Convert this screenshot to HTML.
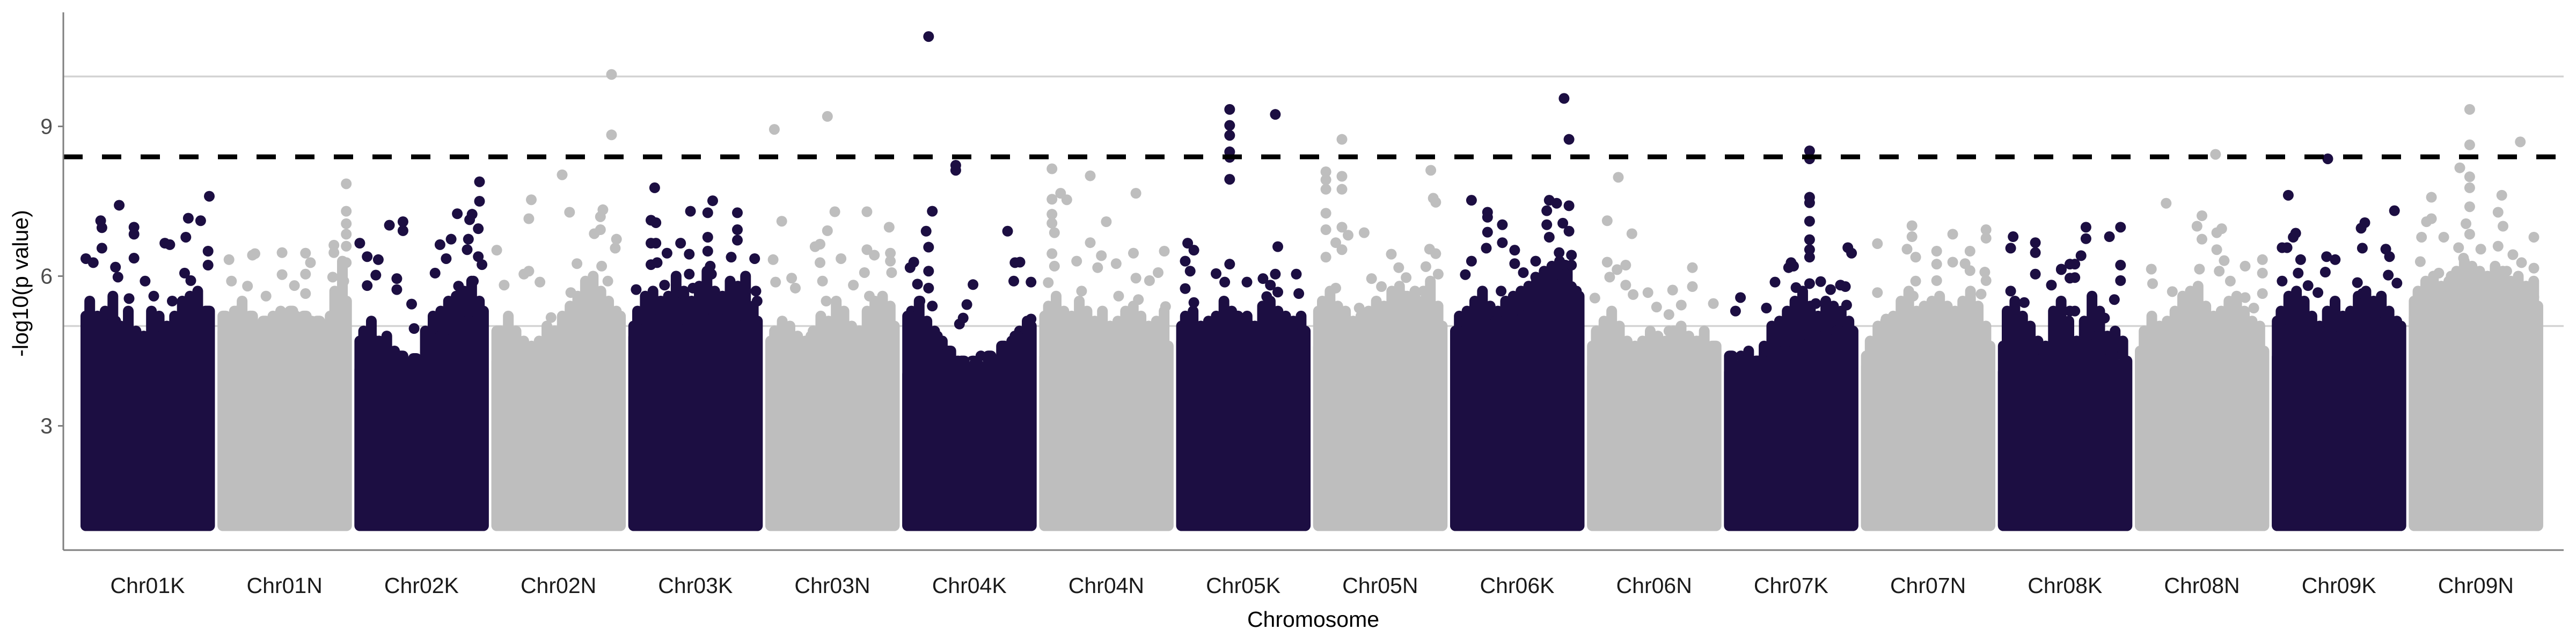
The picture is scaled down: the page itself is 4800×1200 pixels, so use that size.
<!DOCTYPE html>
<html><head><meta charset="utf-8"><style>
html,body{margin:0;padding:0;background:#fff;}
svg{display:block;font-family:"Liberation Sans",Arial,sans-serif;}
</style></head><body>
<svg id="chart" width="4800" height="1200" viewBox="0 0 4800 1200" xmlns="http://www.w3.org/2000/svg">
<rect x="0" y="0" width="4800" height="1200" fill="#fff"/>
<g id="grid"></g>
<g id="spray"></g>
<g id="bodies"></g>
<g id="peaks"></g>
<g id="thresh"></g>
<g id="axes"></g>
<text x="41" y="528" transform="rotate(-90 41 528)" text-anchor="middle" dominant-baseline="middle" font-size="41" fill="#000">-log10(p value)</text>
<text x="2447" y="1168" text-anchor="middle" font-size="41" fill="#000">Chromosome</text>
</svg>
<script>
const chromosomes = ["Chr01K","Chr01N","Chr02K","Chr02N","Chr03K","Chr03N","Chr04K","Chr04N","Chr05K","Chr05N","Chr06K","Chr06N","Chr07K","Chr07N","Chr08K","Chr08N","Chr09K","Chr09N"];
const yTicks = [3, 6, 9];
const gridValues = [5, 10];
const threshold = 8.39;
const minValue = 1.0;
const bodyTops = [
 [5.2,5.0,5.1,4.9,4.7,4.8,4.9,5.0,5.1,5.3],
 [5.2,5.3,5.2,5.1,5.2,5.3,5.2,5.1,5.2,5.5],
 [4.7,4.7,4.5,4.4,4.35,4.4,4.8,5.0,5.1,5.3],
 [4.9,4.8,4.6,4.5,4.6,4.7,4.9,5.2,5.3,5.2],
 [5.0,5.1,5.2,5.1,5.0,5.2,5.3,5.2,5.0,5.1],
 [4.7,4.6,4.7,4.8,4.9,4.8,4.6,4.5,4.9,5.0],
 [5.2,5.0,4.8,4.5,4.3,4.25,4.4,4.6,4.8,5.0],
 [5.2,5.0,5.0,4.9,4.9,4.8,4.7,4.6,4.6,4.6],
 [5.0,4.9,5.0,5.1,5.2,5.0,5.0,5.1,5.0,4.9],
 [5.3,5.1,4.9,4.8,4.9,5.0,5.2,5.3,5.2,5.0],
 [4.9,5.0,5.0,5.1,5.2,5.2,5.4,5.7,5.9,5.6],
 [4.6,4.5,4.5,4.4,4.5,4.5,4.6,4.6,4.7,4.6],
 [4.4,4.3,4.3,4.3,4.5,4.7,4.8,4.8,4.9,4.9],
 [4.4,4.5,4.6,4.9,4.9,4.7,4.8,4.9,4.8,4.6],
 [4.6,4.6,4.5,4.4,4.4,4.4,4.7,4.8,4.4,4.3],
 [4.5,4.6,4.6,4.8,5.0,5.0,4.8,4.6,4.6,4.5],
 [5.1,5.0,5.0,4.9,4.8,4.6,4.8,5.0,5.1,5.0],
 [5.5,5.6,5.6,5.5,5.7,5.6,5.6,5.5,5.6,5.4]
];
const sprayTops = [
 [5.5,5.2,5.3,5.6,5.0,5.3,4.9,4.8,5.3,5.2,5.0,5.2,5.5,5.6,5.7,5.3],
 [5.0,5.3,5.5,5.2,5.0,5.0,5.2,5.3,5.1,5.2,5.0,5.1,4.9,5.0,5.7,6.3],
 [4.9,5.1,4.7,4.8,4.5,4.3,4.2,4.3,4.9,5.2,5.3,5.5,5.6,5.7,5.9,5.5],
 [4.9,5.2,4.9,4.7,4.6,4.7,5.0,4.9,5.2,5.4,5.6,5.9,6.0,5.7,5.5,5.3],
 [5.3,5.6,5.7,5.5,5.6,6.0,5.7,5.5,5.8,6.1,5.7,5.6,5.9,5.8,6.0,5.4],
 [4.9,5.1,5.0,4.8,4.7,4.9,5.2,5.1,5.5,5.3,5.0,4.9,5.3,5.5,5.6,5.4],
 [5.3,5.5,5.1,4.9,4.7,4.5,4.3,4.2,4.3,4.4,4.2,4.3,4.5,4.7,4.9,5.1],
 [5.4,5.6,5.3,5.2,5.5,5.3,5.1,5.3,5.0,5.1,5.3,5.4,5.2,5.0,5.1,5.3],
 [5.2,5.3,5.0,5.1,5.2,5.5,5.3,5.1,5.2,5.0,5.4,5.5,5.3,5.2,5.1,5.2],
 [5.5,5.7,5.4,5.3,5.1,5.2,5.3,5.5,5.4,5.7,5.8,5.6,5.7,5.5,5.9,5.4],
 [5.2,5.3,5.5,5.7,5.4,5.3,5.5,5.6,5.7,5.8,5.9,6.1,6.2,6.3,6.1,5.7],
 [4.9,5.1,5.3,5.0,4.7,4.6,4.7,4.9,4.8,4.7,4.9,5.0,4.8,4.7,4.9,4.6],
 [4.3,4.4,4.5,4.3,4.6,5.0,5.1,5.3,5.5,5.7,5.4,5.2,5.5,5.4,5.3,5.1],
 [4.7,5.0,5.1,5.2,5.5,5.7,5.3,5.4,5.5,5.6,5.4,5.3,5.5,5.7,5.4,5.0],
 [5.3,5.5,5.2,5.0,4.7,4.6,5.3,5.5,5.1,4.7,5.1,5.6,5.3,4.8,4.9,4.7],
 [4.9,5.2,5.0,5.1,5.3,5.6,5.7,5.8,5.4,5.2,5.3,5.5,5.6,5.3,5.1,5.0],
 [5.3,5.6,5.7,5.5,5.2,5.0,5.3,5.5,5.2,5.3,5.6,5.7,5.5,5.6,5.3,5.1],
 [5.7,5.9,6.0,5.8,5.9,6.1,6.3,6.2,6.1,6.0,6.2,6.1,5.9,6.0,5.8,5.9]
];
const peaks = [
 [[.27,7.42],[.12,7.11],[.13,6.97],[.39,6.98],[.39,6.84],[1.0,7.6],[.83,7.16],[.93,7.11],[.13,6.56],[.64,6.66],[.68,6.63],[.81,6.78],[.99,6.5],[.39,6.36],[0,6.35],[.24,6.18],[.80,6.06],[.85,5.91],[.48,5.9],[.99,6.22],[.26,5.98],[.06,6.27],[.55,5.6],[.7,5.5],[.35,5.55]],
 [[1.0,7.85],[1.0,7.3],[1.0,7.05],[1.0,6.84],[1.0,6.6],[.90,6.62],[.90,6.47],[.89,5.98],[.48,6.47],[.67,6.46],[.71,6.27],[.24,6.42],[.26,6.45],[.05,6.33],[.48,6.03],[.67,6.04],[.58,5.81],[.67,5.65],[.07,5.9],[.20,5.8],[1.0,6.27],[.98,5.9],[.35,5.6]],
 [[.97,7.89],[.97,7.5],[.79,7.25],[.91,7.24],[.89,7.13],[.96,6.95],[.24,7.02],[.35,7.09],[.35,6.91],[0,6.66],[.65,6.63],[.74,6.74],[.88,6.74],[.87,6.53],[.96,6.39],[.06,6.39],[.15,6.33],[.70,6.35],[.99,6.23],[.13,6.02],[.30,5.95],[.06,5.81],[.30,5.73],[.42,5.44],[.44,4.95],[.61,6.06],[.8,5.8],[.92,5.9]],
 [[.93,10.04],[.93,8.83],[.53,8.03],[.28,7.53],[.26,7.15],[.59,7.28],[.86,7.33],[.84,7.19],[.84,6.93],[.79,6.85],[.97,6.74],[0,6.52],[.96,6.56],[.65,6.25],[.26,6.1],[.22,6.04],[.06,5.82],[.35,5.88],[.60,5.67],[.44,5.17],[.85,6.2],[.9,5.9],[.8,5.6]],
 [[.17,7.77],[.64,7.51],[.46,7.3],[.60,7.27],[.84,7.27],[.14,7.12],[.18,7.07],[.84,6.93],[.60,6.78],[.84,6.72],[.14,6.66],[.18,6.66],[.38,6.66],[.27,6.46],[.45,6.44],[.79,6.38],[.98,6.35],[.14,6.23],[.19,6.27],[.45,6.04],[.63,6.04],[.02,5.73],[.25,5.82],[.48,5.76],[.99,5.7],[1.0,5.5],[.40,5.64],[.36,5.45],[.6,6.5],[.62,6.2]],
 [[.46,9.2],[.03,8.94],[.52,7.29],[.78,7.29],[.09,7.1],[.96,6.98],[.46,6.91],[.40,6.64],[.36,6.59],[.02,6.33],[.57,6.35],[.78,6.53],[.84,6.42],[.97,6.46],[.40,6.27],[.97,6.3],[.98,6.07],[.17,5.96],[.04,5.88],[.20,5.76],[.42,5.9],[.67,5.82],[.76,6.07],[.8,5.6],[.45,5.5]],
 [[.17,10.8],[.39,8.22],[.39,8.12],[.20,7.3],[.15,6.9],[.17,6.58],[.81,6.9],[.05,6.28],[.02,6.17],[.17,6.1],[.87,6.27],[.53,5.83],[.86,5.9],[.08,5.84],[.17,5.76],[.48,5.43],[.42,5.04],[.45,5.16],[.91,6.28],[1.0,5.88],[1.0,5.14],[.1,5.5],[.2,5.4]],
 [[.06,8.15],[.37,8.01],[.13,7.66],[.18,7.53],[.74,7.66],[.06,7.54],[.06,7.24],[.06,7.06],[.08,6.87],[.50,7.09],[.37,6.67],[.46,6.41],[.97,6.5],[.06,6.45],[.72,6.46],[.08,6.2],[.26,6.3],[.58,6.25],[.43,6.17],[.92,6.07],[.74,5.96],[.85,5.91],[.03,5.87],[.98,5.39],[.76,5.53],[.3,5.7],[.6,5.6]],
 [[.39,9.34],[.39,9.02],[.39,8.82],[.39,8.49],[.39,8.38],[.39,7.94],[.76,9.24],[.78,6.59],[.05,6.66],[.10,6.52],[.03,6.3],[.07,6.1],[.39,6.24],[.28,6.05],[.76,6.04],[.93,6.04],[.66,5.95],[.03,5.75],[.35,5.88],[.53,5.88],[.72,5.82],[.95,5.65],[.69,5.59],[.10,5.47],[.78,5.68]],
 [[.19,8.74],[.06,8.09],[.06,7.93],[.06,7.74],[.19,8.0],[.19,7.74],[.91,8.12],[.93,7.56],[.95,7.48],[.06,7.26],[.06,6.93],[.19,6.98],[.24,6.82],[.37,6.87],[.14,6.67],[.19,6.53],[.06,6.38],[.59,6.44],[.90,6.54],[.95,6.45],[.65,6.17],[.87,6.19],[.97,6.04],[.43,5.95],[.51,5.79],[.71,5.97],[.14,5.76],[.33,5.36],[.7,5.6],[.85,5.7]],
 [[.13,7.52],[.26,7.28],[.26,7.18],[.38,7.03],[.26,6.88],[.38,6.67],[.48,6.52],[.25,6.56],[.13,6.3],[.48,6.25],[.08,6.03],[.55,6.07],[.65,6.3],[.74,7.31],[.76,7.52],[.74,7.03],[.76,6.78],[.65,5.98],[.20,5.45],[.37,5.7],[.88,9.56],[.92,8.74],[.92,7.41],[.82,7.46],[.87,7.06],[.92,6.9],[.84,6.47],[.94,6.42],[.89,6.22],[.94,6.22],[.94,5.79],[.98,5.7],[.98,5.54]],
 [[.21,7.98],[.12,7.11],[.32,6.85],[.12,6.28],[.20,6.13],[.27,6.22],[.14,5.98],[.02,5.56],[.81,6.17],[.65,5.72],[.45,5.67],[.81,5.79],[.98,5.45],[.52,5.38],[.27,5.82],[.33,5.63],[.72,5.42],[.62,5.23],[.62,4.9]],
 [[.65,8.51],[.65,8.35],[.65,7.58],[.65,7.47],[.65,7.1],[.65,6.73],[.65,6.53],[.65,6.38],[.96,6.57],[.99,6.46],[.50,6.27],[.48,6.17],[.52,6.2],[.37,5.88],[.74,5.89],[.54,5.77],[.65,5.85],[.90,5.82],[.94,5.79],[.82,5.73],[.09,5.57],[.30,5.36],[.05,5.3],[.95,5.42],[.7,5.45]],
 [[.37,7.01],[.37,6.79],[.97,6.93],[.97,6.76],[.70,6.84],[.09,6.65],[.57,6.5],[.84,6.5],[.33,6.54],[.40,6.38],[.70,6.28],[.57,6.24],[.80,6.25],[.84,6.11],[.96,6.08],[.97,5.91],[.09,5.67],[.57,5.91],[.16,5.14],[.93,5.64],[.38,5.6],[.4,5.9]],
 [[.08,6.79],[.06,6.56],[.26,6.67],[.26,6.47],[.67,6.98],[.67,6.75],[.47,6.13],[.54,6.24],[.54,5.96],[.26,6.04],[.39,5.82],[.06,5.7],[.17,5.47],[.54,5.3],[.86,6.79],[.95,6.98],[.95,6.22],[.95,5.91],[.63,6.41],[.58,6.24],[.47,6.14],[.58,5.97],[.90,5.53],[.58,5.3],[.82,5.16]],
 [[.61,8.44],[.21,7.46],[.50,7.21],[.66,6.95],[.62,6.87],[.62,6.53],[.46,7.0],[.50,6.74],[.09,6.14],[.68,6.31],[.85,6.2],[.99,6.33],[.64,6.1],[.99,6.06],[.26,5.69],[.48,6.14],[.73,5.9],[.99,5.65],[.10,5.85],[.92,5.36],[.85,5.57]],
 [[.41,8.35],[.09,7.62],[.95,7.31],[.71,7.07],[.68,6.96],[.69,6.56],[.15,6.86],[.13,6.78],[.04,6.57],[.08,6.57],[.88,6.54],[.91,6.39],[.19,6.33],[.40,6.39],[.47,6.33],[.39,6.08],[.17,6.06],[.04,5.9],[.65,5.87],[.97,5.86],[.25,5.81],[.90,6.02],[.69,5.65],[.33,5.67],[.06,5.28]],
 [[.45,9.34],[.45,8.63],[.86,8.69],[.37,8.17],[.45,7.99],[.45,7.77],[.14,7.58],[.71,7.62],[.45,7.39],[.14,7.15],[.10,7.09],[.68,7.28],[.42,7.05],[.45,6.84],[.72,7.0],[.24,6.78],[.06,6.78],[.97,6.78],[.36,6.57],[.54,6.54],[.68,6.6],[.80,6.43],[.97,6.16],[.05,6.29],[.40,6.36],[.87,6.27],[.20,6.06],[.58,5.86],[.97,5.58],[.3,6.0],[.75,6.1]]
];

const NS = "http://www.w3.org/2000/svg";
const plotLeft = 118, plotRight = 4777, plotTop = 23, plotBottom = 1025;
const blockStart = 150, blockStep = 255.2, blockWidth = 250, R = 10;
const colors = ["#1c0e42", "#bebebe"];
function yScale(v){ return 1072.5 - 93 * v; }
function xPos(k, frac){ return blockStart + R + k * blockStep + frac * (blockWidth - 2 * R); }
function mk(tag, attrs, parent){ const e = document.createElementNS(NS, tag); for (const a in attrs) e.setAttribute(a, attrs[a]); parent.appendChild(e); return e; }

const grid = document.getElementById('grid');
gridValues.forEach(v => {
  const l = mk('line', {x1: plotLeft, x2: plotRight, y1: yScale(v), y2: yScale(v), stroke: '#d3d3d3', 'stroke-width': 3.5}, grid);
  
  
});

const spray = document.getElementById('spray');
sprayTops.forEach((tops, k) => {
  const g = mk('g', {fill: colors[k % 2]}, spray);
  
  
  tops.forEach((t, i) => {
    const cx = xPos(k, (i + 0.5) / tops.length);
    const y0 = yScale(t) - R, y1 = yScale(4.3);
    const r = mk('rect', {x: cx - R, y: y0, width: 2 * R, height: Math.max(0, y1 - y0), rx: R, ry: R}, g);
    
    
  });
});

const bodies = document.getElementById('bodies');
bodyTops.forEach((tops, k) => {
  const g = mk('g', {fill: colors[k % 2]}, bodies);
  
  
  const bw = blockWidth / tops.length;
  tops.forEach((t, i) => {
    const y0 = yScale(t) - R, y1 = yScale(minValue) + R;
    const r = mk('rect', {x: blockStart + k * blockStep + i * bw, y: y0, width: bw + 0.5, height: y1 - y0, rx: R, ry: R}, g);
    
    
  });
  const base = mk('rect', {x: blockStart + k * blockStep, y: yScale(Math.min(...tops)) + R, width: blockWidth, height: yScale(minValue) - yScale(Math.min(...tops)), rx: R, ry: R}, g);
  
  
});

const pk = document.getElementById('peaks');
peaks.forEach((list, k) => {
  list.forEach(p => {
    const c = mk('circle', {cx: xPos(k, p[0]), cy: yScale(p[1]), r: R, fill: colors[k % 2]}, pk);
    
    
  });
});

const th = document.getElementById('thresh');
const tl = mk('line', {x1: plotLeft, x2: plotRight, y1: yScale(threshold), y2: yScale(threshold), stroke: '#000', 'stroke-width': 9, 'stroke-dasharray': '36 36'}, th);



const ax = document.getElementById('axes');
const ya = mk('line', {x1: plotLeft, x2: plotLeft, y1: plotTop, y2: plotBottom, stroke: '#7f7f7f', 'stroke-width': 3}, ax);


const xa = mk('line', {x1: plotLeft, x2: plotRight, y1: plotBottom, y2: plotBottom, stroke: '#7f7f7f', 'stroke-width': 3}, ax);


yTicks.forEach(v => {
  const t = mk('line', {x1: plotLeft - 10, x2: plotLeft, y1: yScale(v), y2: yScale(v), stroke: '#7f7f7f', 'stroke-width': 3}, ax);
  
  
  const tx = mk('text', {x: plotLeft - 20, y: yScale(v) + 14, 'text-anchor': 'end', 'font-size': 41, fill: '#4d4d4d'}, ax);
  tx.textContent = String(v);
  
  
});
chromosomes.forEach((c, k) => {
  const tx = mk('text', {x: blockStart + k * blockStep + blockWidth / 2, y: 1105, 'text-anchor': 'middle', 'font-size': 41, fill: '#1a1a1a'}, ax);
  tx.textContent = c;
  
  
});
</script>
</body></html>
